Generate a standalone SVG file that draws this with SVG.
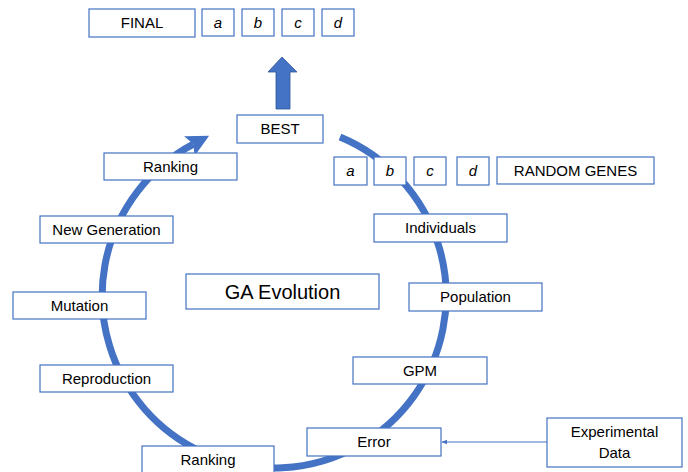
<svg xmlns="http://www.w3.org/2000/svg" width="688" height="472" viewBox="0 0 688 472">
<style>
.box{fill:#fff;stroke:#4472C4;stroke-width:1.2}
.t{font-family:"Liberation Sans",Arial,sans-serif;font-size:15px;fill:#000;text-anchor:middle}
.i{font-style:italic}
</style>
<defs>
<marker id="big" viewBox="0 0 10 10" refX="2" refY="5" markerWidth="3.2" markerHeight="3.6" orient="auto" markerUnits="strokeWidth">
<path d="M0,0 L10,5 L0,10 L2,5 z" fill="#4472C4"/>
</marker>
<marker id="small" viewBox="0 0 10 10" refX="9" refY="5" markerWidth="6" markerHeight="6" orient="auto" markerUnits="userSpaceOnUse">
<path d="M0,1 L10,5 L0,9 z" fill="#4472C4"/>
</marker>
</defs>
<g id="connectors">
<path d="M340,137 A172,172 0 1 1 193.3,144.1" fill="none" stroke="#4472C4" stroke-width="7" marker-end="url(#big)"/>
<line x1="547" y1="442" x2="442" y2="442" stroke="#4472C4" stroke-width="1" marker-end="url(#small)"/>
<polygon points="276,109 276,72 268,72 282,57 297,72 290,72 290,109" fill="#4472C4" stroke="#2F5597" stroke-width="0.8"/>
</g>
<g id="final"><rect class="box" x="89" y="9" width="106" height="28"/><text class="t" x="142" y="28">FINAL</text></g>
<g id="fa"><rect class="box" x="202" y="9" width="32" height="27"/><text class="t i" x="218" y="28">a</text></g>
<g id="fb"><rect class="box" x="242" y="9" width="32" height="27"/><text class="t i" x="258" y="28">b</text></g>
<g id="fc"><rect class="box" x="282" y="9" width="32" height="27"/><text class="t i" x="298" y="28">c</text></g>
<g id="fd"><rect class="box" x="322" y="9" width="32" height="27"/><text class="t i" x="338" y="28">d</text></g>
<g id="best"><rect class="box" x="237" y="115" width="86" height="28"/><text class="t" x="280" y="134">BEST</text></g>
<g id="ra"><rect class="box" x="334" y="157" width="33" height="28"/><text class="t i" x="350.5" y="176">a</text></g>
<g id="rb"><rect class="box" x="374" y="157" width="32" height="28"/><text class="t i" x="390" y="176">b</text></g>
<g id="rc"><rect class="box" x="414" y="157" width="32" height="28"/><text class="t i" x="430" y="176">c</text></g>
<g id="rd"><rect class="box" x="457" y="157" width="32" height="28"/><text class="t i" x="473" y="176">d</text></g>
<g id="random"><rect class="box" x="497" y="157" width="157" height="27"/><text class="t" x="575.5" y="176">RANDOM GENES</text></g>
<g id="ranking-top"><rect class="box" x="104" y="153" width="133" height="27"/><text class="t" x="170.5" y="172">Ranking</text></g>
<g id="newgen"><rect class="box" x="40" y="216" width="133" height="27"/><text class="t" x="106.5" y="235">New Generation</text></g>
<g id="individuals"><rect class="box" x="374" y="214" width="133" height="28"/><text class="t" x="440.5" y="233">Individuals</text></g>
<g id="ga"><rect class="box" x="186" y="274" width="193" height="35"/><text class="t" x="282.5" y="298.5" style="font-size:20px">GA Evolution</text></g>
<g id="population"><rect class="box" x="409" y="283" width="133" height="28"/><text class="t" x="475.5" y="302">Population</text></g>
<g id="mutation"><rect class="box" x="13" y="292" width="133" height="27"/><text class="t" x="79.5" y="311">Mutation</text></g>
<g id="gpm"><rect class="box" x="353" y="357" width="134" height="27"/><text class="t" x="420" y="376">GPM</text></g>
<g id="reproduction"><rect class="box" x="40" y="365" width="133" height="27"/><text class="t" x="106.5" y="384">Reproduction</text></g>
<g id="error"><rect class="box" x="307" y="428" width="134" height="28"/><text class="t" x="374" y="447">Error</text></g>
<g id="experimental"><rect class="box" x="547" y="418" width="135" height="49"/><text class="t" x="614.5" y="437">Experimental</text><text class="t" x="614.5" y="458">Data</text></g>
<g id="ranking-bottom"><rect class="box" x="142" y="446" width="132" height="30"/><text class="t" x="208" y="465">Ranking</text></g>
</svg>
